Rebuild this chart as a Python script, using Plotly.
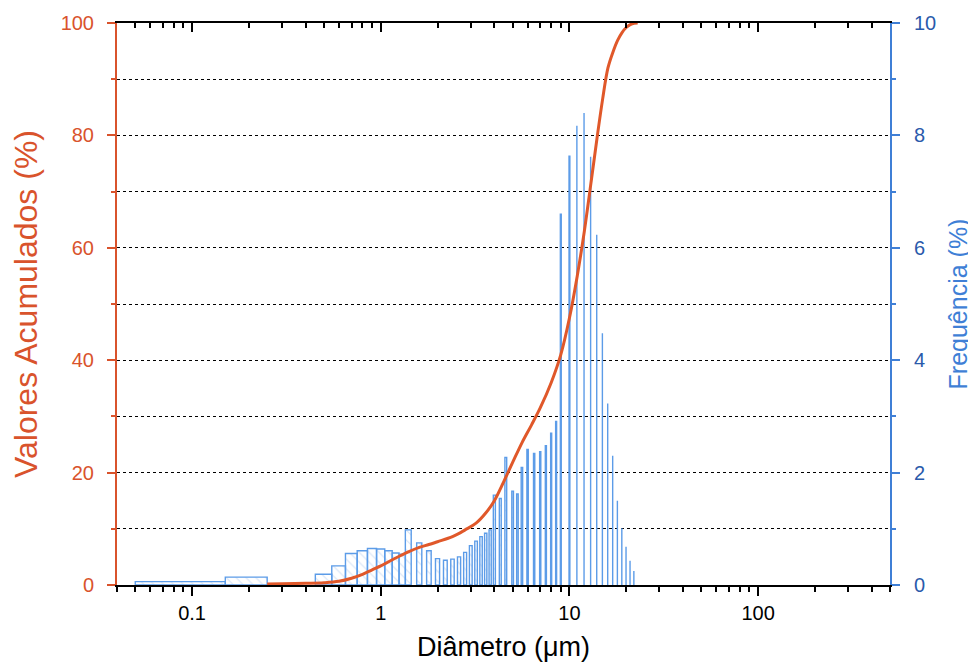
import math
import plotly.graph_objects as go

# ---------------- data ----------------
# frequency histogram (class centre in µm, frequency in %)
bar_diam = [0.1, 0.2, 0.5, 0.6, 0.7, 0.8, 0.9, 1.0, 1.1, 1.2, 1.3, 1.4, 1.6, 1.8,
            2.0, 2.2, 2.4, 2.6, 2.8, 3.0, 3.2, 3.4, 3.6, 3.8, 4.0, 4.3, 4.6, 5.0,
            5.3, 5.6, 6.0, 6.5, 7.0, 7.5, 8.0, 8.5, 9.0, 10, 11, 12, 13, 14, 15,
            16, 17, 18, 19, 20, 21, 22]
bar_freq = [0.06, 0.14, 0.19, 0.34, 0.56, 0.61, 0.65, 0.64, 0.61, 0.57, 0.55, 0.98,
            0.75, 0.61, 0.47, 0.44, 0.46, 0.50, 0.58, 0.70, 0.78, 0.86, 0.92, 0.98,
            1.60, 1.54, 2.27, 1.67, 1.62, 2.09, 2.41, 2.34, 2.37, 2.48, 2.70, 2.91,
            6.60, 7.63, 8.17, 8.40, 7.62, 6.23, 4.48, 3.23, 2.30, 1.50, 1.01, 0.68,
            0.43, 0.25]
bar_width = 0.1  # class width in µm

# cumulative curve (diameter µm, cumulative %)
cum_diam = [0.25, 0.3, 0.4, 0.5, 0.6, 0.7, 0.8, 0.9, 1.0, 1.2, 1.4, 1.6, 1.8, 2.0,
            2.4, 2.8, 3.2, 3.6, 4.0, 4.5, 5.0, 5.6, 6.3, 7.0, 8.0, 9.0, 10.0, 11.0,
            12.0, 13.0, 14.0, 15.0, 16.0, 17.0, 18.0, 19.0, 20.0, 21.0, 22.0, 23.0]
cum_val = [0.2, 0.22, 0.3, 0.4, 0.65, 1.2, 1.9, 2.7, 3.4, 4.8, 5.9, 6.7, 7.2, 7.7,
           8.6, 9.8, 11.0, 12.8, 15.0, 18.5, 21.8, 25.3, 28.5, 31.5, 36.0, 41.0, 47.5, 55.0,
           63.0, 71.5, 79.5, 86.5, 92.0, 94.8, 96.9, 98.3, 99.2, 99.7, 99.95, 100.0]

x_ticks = [0.1, 1, 10, 100]
x_ticktext = ["0.1", "1", "10", "100"]
cum_ticks = [0, 20, 40, 60, 80, 100]
freq_ticks = [0, 2, 4, 6, 8, 10]

# ---------------- styling ----------------
ORANGE = "#d9532c"
CURVE = "#e0582a"
BLUE_LINE = "#3f7fd6"
BLUE_TXT = "#2a5aab"
BAR_LINE = "#5c9ce8"
FONT = "Liberation Sans, Arial, sans-serif"

minor_x = []
for e in range(-2, 3):
    for m in range(2, 10):
        v = m * 10 ** e
        if 0.04 <= v <= 500:
            minor_x.append(v)

# build bar rectangles (data coordinates) from the arrays
bx, by = [], []
for c, f in zip(bar_diam, bar_freq):
    x0, x1 = c - bar_width / 2, c + bar_width / 2
    bx += [x0, x0, x1, x1, x0, None]
    by += [0, f, f, 0, 0, None]

fig = go.Figure()

fig.add_trace(go.Scatter(
    x=bx, y=by, mode="lines", fill="toself",
    fillcolor="rgba(180,205,240,0.25)",
    fillpattern=dict(shape="\\", fgcolor="#a8c6ee", bgcolor="rgba(255,255,255,0)",
                     size=7, solidity=0.15),
    line=dict(color=BAR_LINE, width=1.4),
    xaxis="x", yaxis="y", showlegend=False, hoverinfo="skip"))

# invisible helper so the top mirror axis is drawn
fig.add_trace(go.Scatter(x=[1], y=[-5], mode="markers", marker=dict(opacity=0),
                         xaxis="x2", yaxis="y", showlegend=False, hoverinfo="skip"))

fig.add_trace(go.Scatter(
    x=cum_diam, y=cum_val, mode="lines",
    line=dict(color=CURVE, width=3, shape="spline", smoothing=1.0),
    xaxis="x", yaxis="y2", showlegend=False))

xr = [math.log10(0.04), math.log10(500)]

# the page body adds an 8px offset, so the figure is 8px smaller and margins shifted
fig.update_layout(
    width=968, height=658,
    margin=dict(l=109, r=86, t=15, b=81, autoexpand=False),
    paper_bgcolor="white", plot_bgcolor="white",
    font=dict(family=FONT, size=20, color="black"),
    xaxis=dict(
        type="log", range=xr, anchor="y", automargin=False,
        tickvals=x_ticks, ticktext=x_ticktext,
        ticks="outside", ticklen=9, tickwidth=2, tickcolor="black",
        minor=dict(tickvals=minor_x, ticks="outside", ticklen=5, tickwidth=2, tickcolor="black"),
        showline=True, linecolor="black", linewidth=2,
        showgrid=False, zeroline=False,
        tickfont=dict(size=20, color="black"),
        title=dict(text="Diâmetro (μm)", font=dict(size=27, color="black"), standoff=14),
    ),
    xaxis2=dict(
        type="log", range=xr, overlaying="x", side="top", anchor="y", automargin=False,
        tickvals=x_ticks, ticks="inside", ticklen=9, tickwidth=2, tickcolor="black",
        minor=dict(tickvals=minor_x, ticks="inside", ticklen=5, tickwidth=2, tickcolor="black"),
        showticklabels=False, showline=True, linecolor="black", linewidth=2,
        showgrid=False, zeroline=False,
    ),
    yaxis=dict(
        range=[0, 10], side="right", anchor="x", automargin=False,
        tickvals=freq_ticks, ticks="outside", ticklen=8, tickwidth=2, tickcolor=BLUE_LINE,
        ticklabelstandoff=10,
        minor=dict(dtick=1, ticks="outside", ticklen=4, tickwidth=2, tickcolor=BLUE_LINE,
                   showgrid=True, gridcolor="black", griddash="dot", gridwidth=1),
        showgrid=True, gridcolor="black", griddash="dot", gridwidth=1,
        showline=True, linecolor=BLUE_LINE, linewidth=2, zeroline=False,
        tickfont=dict(size=20, color=BLUE_TXT),
        title=dict(text="Frequência (%)", font=dict(size=25, color=BLUE_LINE), standoff=14),
    ),
    yaxis2=dict(
        range=[0, 100], side="left", overlaying="y", anchor="x", automargin=False,
        tickvals=cum_ticks, ticks="outside", ticklen=8, tickwidth=2, tickcolor=ORANGE,
        ticklabelstandoff=9,
        minor=dict(dtick=10, ticks="outside", ticklen=4, tickwidth=2, tickcolor=ORANGE),
        showgrid=False, showline=True, linecolor=ORANGE, linewidth=2, zeroline=False,
        tickfont=dict(size=20, color=ORANGE),
        title=dict(text="Valores Acumulados (%)", font=dict(size=32, color=ORANGE), standoff=14),
    ),
)

fig.write_html("out.html")
